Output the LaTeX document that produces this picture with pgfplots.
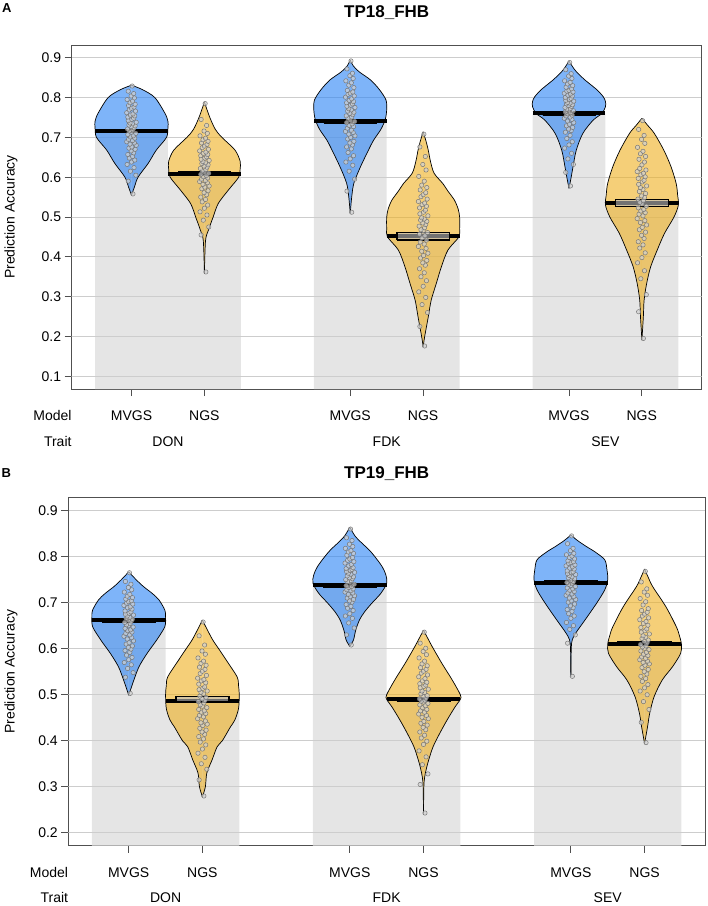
\documentclass[border=0pt]{standalone}
\usepackage{fontspec}
\setmainfont{Liberation Sans}
\usepackage{pgfplots}
\usepackage{pgfplotstable}
\pgfplotsset{compat=1.18}
\definecolor{barcol}{RGB}{229,229,229}
\definecolor{vblue}{RGB}{40,130,245}
\definecolor{vyel}{RGB}{238,175,30}
\definecolor{gridc}{RGB}{205,205,205}
\definecolor{axc}{RGB}{80,80,80}
\newcommand{\lab}{\fontsize{14}{16}\selectfont}

% violin half-width profiles (v = accuracy, w = half width in x units)
\pgfplotstableread{
v w
0.555 0
0.575 0.04
0.600 0.09
0.635 0.23
0.668 0.34
0.700 0.48
0.725 0.50
0.740 0.50
0.760 0.46
0.800 0.32
0.820 0.15
0.831 0
}\pAa
\pgfplotstableread{
v w
0.358 0
0.440 0.015
0.467 0.055
0.500 0.12
0.534 0.19
0.568 0.33
0.600 0.47
0.620 0.49
0.640 0.49
0.668 0.42
0.700 0.24
0.720 0.15
0.752 0.07
0.789 0
}\pAb
\pgfplotstableread{
v w
0.509 0
0.550 0.02
0.585 0.05
0.626 0.14
0.668 0.25
0.693 0.32
0.720 0.42
0.745 0.48
0.770 0.50
0.794 0.49
0.820 0.40
0.844 0.28
0.865 0.12
0.880 0.04
0.894 0
}\pAc
\pgfplotstableread{
v w
0.174 0
0.199 0.02
0.249 0.07
0.291 0.11
0.333 0.18
0.375 0.25
0.417 0.34
0.450 0.49
0.470 0.50
0.500 0.50
0.520 0.48
0.542 0.43
0.565 0.34
0.584 0.27
0.610 0.15
0.640 0.10
0.668 0.07
0.690 0.04
0.714 0
}\pAd
\pgfplotstableread{
v w
0.572 0
0.600 0.03
0.626 0.055
0.668 0.10
0.710 0.19
0.743 0.33
0.760 0.45
0.777 0.50
0.790 0.50
0.802 0.47
0.820 0.38
0.844 0.22
0.865 0.10
0.880 0.04
0.892 0
}\pAe
\pgfplotstableread{
v w
0.191 0
0.250 0.02
0.291 0.03
0.333 0.065
0.375 0.12
0.417 0.21
0.459 0.31
0.500 0.44
0.530 0.50
0.555 0.49
0.584 0.47
0.626 0.40
0.668 0.30
0.710 0.17
0.730 0.08
0.748 0
}\pAf
\pgfplotstableread{
v w
0.499 0
0.532 0.07
0.561 0.14
0.590 0.25
0.619 0.38
0.648 0.49
0.670 0.50
0.684 0.49
0.706 0.41
0.720 0.32
0.735 0.20
0.750 0.10
0.767 0
}\pBa
\pgfplotstableread{
v w
0.278 0
0.300 0.04
0.330 0.06
0.358 0.13
0.387 0.20
0.400 0.27
0.430 0.38
0.445 0.44
0.470 0.49
0.500 0.50
0.520 0.49
0.539 0.47
0.576 0.32
0.600 0.22
0.619 0.14
0.640 0.07
0.662 0
}\pBb
\pgfplotstableread{
v w
0.605 0
0.619 0.05
0.640 0.08
0.662 0.13
0.680 0.20
0.699 0.30
0.720 0.42
0.742 0.50
0.760 0.49
0.778 0.44
0.800 0.34
0.815 0.26
0.830 0.16
0.845 0.07
0.864 0
}\pBc
\pgfplotstableread{
v w
0.242 0
0.300 0.005
0.320 0.015
0.340 0.04
0.358 0.07
0.387 0.13
0.416 0.22
0.445 0.32
0.474 0.43
0.490 0.50
0.500 0.50
0.532 0.39
0.568 0.25
0.604 0.12
0.625 0.05
0.640 0
}\pBd
\pgfplotstableread{
v w
0.539 0
0.600 0.005
0.620 0.02
0.635 0.07
0.662 0.19
0.699 0.35
0.728 0.46
0.750 0.50
0.771 0.49
0.793 0.46
0.810 0.33
0.822 0.21
0.835 0.09
0.847 0
}\pBe
\pgfplotstableread{
v w
0.394 0
0.430 0.04
0.460 0.07
0.496 0.13
0.532 0.24
0.561 0.38
0.590 0.49
0.610 0.50
0.630 0.47
0.648 0.43
0.691 0.29
0.735 0.11
0.755 0.05
0.773 0
}\pBf

% individual points: dx = jitter, y1..y6 = values per model/trait
\pgfplotstableread{
dx y1 y2 y3 y4 y5 y6
0.02 0.558 0.362 0.512 0.176 0.578 0.195
-0.045 0.590 0.455 0.565 0.225 0.612 0.262
0.06 0.605 0.475 0.595 0.260 0.632 0.305
-0.015 0.615 0.492 0.615 0.280 0.646 0.345
0.035 0.624 0.505 0.630 0.298 0.660 0.365
-0.06 0.632 0.513 0.638 0.312 0.673 0.385
0.0 0.638 0.522 0.646 0.326 0.681 0.398
0.045 0.643 0.530 0.654 0.340 0.689 0.410
-0.03 0.648 0.538 0.662 0.350 0.697 0.422
0.015 0.652 0.544 0.671 0.360 0.705 0.430
-0.05 0.657 0.550 0.676 0.370 0.713 0.438
0.03 0.661 0.556 0.681 0.379 0.717 0.446
-0.005 0.666 0.561 0.686 0.385 0.721 0.454
0.05 0.670 0.566 0.690 0.391 0.725 0.462
-0.035 0.673 0.571 0.696 0.397 0.729 0.468
0.005 0.676 0.575 0.700 0.403 0.733 0.474
0.065 0.680 0.578 0.704 0.409 0.737 0.480
-0.02 0.683 0.582 0.708 0.414 0.741 0.486
0.04 0.686 0.586 0.712 0.421 0.745 0.491
-0.065 0.689 0.589 0.715 0.426 0.748 0.496
0.015 0.692 0.592 0.718 0.432 0.751 0.503
-0.04 0.695 0.595 0.723 0.437 0.754 0.507
0.045 0.698 0.598 0.727 0.442 0.756 0.511
-0.015 0.701 0.601 0.730 0.447 0.759 0.515
0.025 0.704 0.604 0.734 0.453 0.762 0.519
-0.05 0.707 0.607 0.737 0.457 0.764 0.523
0.06 0.710 0.610 0.740 0.461 0.767 0.527
0.0 0.713 0.613 0.743 0.465 0.769 0.533
-0.03 0.716 0.616 0.748 0.468 0.771 0.537
0.02 0.719 0.619 0.751 0.473 0.773 0.541
-0.055 0.721 0.622 0.754 0.477 0.775 0.545
0.035 0.724 0.625 0.757 0.481 0.778 0.549
-0.005 0.727 0.628 0.760 0.485 0.780 0.553
0.05 0.729 0.631 0.763 0.489 0.782 0.559
-0.035 0.731 0.634 0.766 0.492 0.784 0.564
0.015 0.734 0.636 0.769 0.495 0.786 0.569
-0.02 0.736 0.639 0.772 0.498 0.788 0.574
0.065 0.738 0.642 0.775 0.503 0.791 0.578
-0.045 0.742 0.645 0.778 0.508 0.793 0.582
0.005 0.745 0.648 0.781 0.512 0.795 0.588
0.03 0.748 0.651 0.784 0.517 0.798 0.592
-0.05 0.751 0.654 0.787 0.523 0.800 0.597
0.045 0.754 0.657 0.790 0.527 0.804 0.601
-0.015 0.756 0.660 0.793 0.531 0.806 0.606
0.02 0.759 0.663 0.797 0.535 0.809 0.610
-0.065 0.762 0.666 0.801 0.539 0.811 0.614
0.055 0.766 0.670 0.804 0.545 0.814 0.618
-0.03 0.769 0.674 0.808 0.551 0.816 0.622
0.0 0.773 0.678 0.811 0.556 0.818 0.631
0.035 0.776 0.682 0.814 0.561 0.822 0.638
-0.04 0.780 0.686 0.818 0.568 0.826 0.645
0.05 0.783 0.690 0.825 0.574 0.830 0.652
-0.02 0.787 0.694 0.831 0.580 0.834 0.659
0.015 0.791 0.698 0.837 0.590 0.838 0.665
-0.06 0.795 0.704 0.842 0.602 0.842 0.675
0.04 0.799 0.710 0.848 0.618 0.848 0.685
-0.005 0.804 0.716 0.855 0.632 0.854 0.695
0.03 0.810 0.730 0.861 0.652 0.860 0.705
-0.045 0.816 0.745 0.872 0.676 0.870 0.720
0.01 0.829 0.785 0.892 0.708 0.888 0.742
}\ptsA
\pgfplotstableread{
dx y1 y2 y3 y4 y5 y6
0.02 0.503 0.280 0.608 0.243 0.540 0.396
-0.045 0.538 0.315 0.630 0.305 0.612 0.440
0.06 0.548 0.338 0.645 0.328 0.630 0.468
-0.015 0.557 0.350 0.656 0.348 0.642 0.485
0.035 0.565 0.364 0.666 0.365 0.650 0.500
-0.06 0.570 0.373 0.671 0.378 0.657 0.508
0.0 0.576 0.382 0.676 0.392 0.666 0.515
0.045 0.581 0.391 0.683 0.399 0.671 0.522
-0.03 0.586 0.397 0.688 0.406 0.676 0.529
0.015 0.592 0.404 0.692 0.412 0.681 0.535
-0.05 0.596 0.409 0.696 0.419 0.685 0.540
0.03 0.599 0.414 0.701 0.424 0.689 0.545
-0.005 0.603 0.419 0.704 0.429 0.693 0.550
0.05 0.606 0.423 0.707 0.434 0.697 0.555
-0.035 0.610 0.427 0.710 0.438 0.701 0.559
0.005 0.613 0.433 0.713 0.442 0.704 0.564
0.065 0.617 0.436 0.715 0.448 0.707 0.567
-0.02 0.621 0.439 0.718 0.451 0.710 0.570
0.04 0.624 0.443 0.721 0.455 0.713 0.573
-0.065 0.627 0.448 0.723 0.458 0.716 0.576
0.015 0.630 0.452 0.726 0.462 0.719 0.579
-0.04 0.633 0.455 0.728 0.465 0.721 0.582
0.045 0.636 0.459 0.730 0.468 0.724 0.585
-0.015 0.639 0.462 0.733 0.472 0.727 0.588
0.025 0.641 0.465 0.735 0.476 0.730 0.592
-0.05 0.644 0.468 0.737 0.478 0.732 0.595
0.06 0.647 0.472 0.740 0.481 0.735 0.598
0.0 0.650 0.475 0.744 0.484 0.737 0.601
-0.03 0.652 0.478 0.746 0.486 0.740 0.604
0.02 0.655 0.482 0.748 0.488 0.742 0.606
-0.055 0.657 0.485 0.750 0.491 0.744 0.609
0.035 0.660 0.488 0.752 0.493 0.746 0.613
-0.005 0.662 0.491 0.754 0.496 0.748 0.616
0.05 0.664 0.494 0.756 0.498 0.752 0.619
-0.035 0.666 0.497 0.758 0.502 0.754 0.622
0.015 0.668 0.502 0.762 0.505 0.756 0.625
-0.02 0.671 0.505 0.764 0.508 0.759 0.628
0.065 0.673 0.508 0.766 0.512 0.761 0.632
-0.045 0.675 0.511 0.768 0.515 0.763 0.636
0.005 0.677 0.514 0.770 0.518 0.765 0.639
0.03 0.680 0.517 0.772 0.521 0.767 0.643
-0.05 0.682 0.523 0.774 0.524 0.769 0.646
0.045 0.686 0.526 0.776 0.527 0.773 0.651
-0.015 0.689 0.530 0.780 0.530 0.775 0.655
0.02 0.691 0.533 0.783 0.535 0.778 0.659
-0.065 0.694 0.536 0.786 0.539 0.780 0.663
0.055 0.697 0.542 0.789 0.543 0.782 0.667
-0.03 0.699 0.546 0.792 0.547 0.785 0.671
0.0 0.702 0.551 0.795 0.551 0.787 0.675
0.035 0.704 0.555 0.798 0.555 0.789 0.679
-0.04 0.708 0.560 0.803 0.559 0.791 0.683
0.05 0.711 0.564 0.807 0.563 0.795 0.687
-0.02 0.714 0.568 0.810 0.567 0.798 0.695
0.015 0.718 0.573 0.813 0.573 0.801 0.702
-0.06 0.723 0.580 0.818 0.580 0.804 0.709
0.04 0.728 0.588 0.822 0.587 0.807 0.716
-0.005 0.733 0.595 0.827 0.594 0.813 0.723
0.03 0.740 0.608 0.835 0.601 0.818 0.730
-0.045 0.746 0.628 0.841 0.612 0.828 0.745
0.01 0.765 0.658 0.860 0.636 0.845 0.768
}\ptsB

\pgfplotsset{
  pirate/.style={
    scale only axis, clip=true, axis on top=false,
    xmin=0.18, xmax=8.82,
    xtick={1,2,4,5,7,8}, xticklabels={},
    tick align=outside, tick pos=left, major tick length=7pt,
    tick style={axc, line width=0.9pt},
    axis line style={axc, line width=1pt},
    ymajorgrids, grid style={gridc, line width=0.9pt},
    yticklabel style={font=\lab, /pgf/number format/fixed, /pgf/number format/fixed zerofill, /pgf/number format/precision=1, /pgf/number format/assume math mode=true},
  },
  violin/.style={smooth, tension=0.5, draw=black, line width=0.7pt, fill opacity=0.6, mark=none},
  pts/.style={only marks, mark=*, mark size=2.2pt, mark options={draw=black!55, fill=black!18, fill opacity=0.7, line width=0.45pt}},
  avg/.style={black, line width=4pt, mark=none},
  inf/.style={draw=black, line width=1.3pt, fill=black!25, fill opacity=0.6, mark=none},
  infn/.style={draw=black, line width=1.2pt, fill=black, mark=none},
  gridl/.style={gridc, line width=0.9pt, mark=none},
}
\newcommand{\violin}[3]{%
  \addplot[violin, fill=#3] table[x expr=#1+\thisrow{w}, y=v]{#2};
  \addplot[violin, fill=#3] table[x expr=#1-\thisrow{w}, y=v]{#2};}

\begin{document}
\begin{tikzpicture}
\path[use as bounding box] (0pt,0pt) rectangle (708pt,-906pt);

% ---------------- Panel A ----------------
\begin{axis}[pirate, at={(71.7pt,-389pt)}, anchor=south west, width=630pt, height=344pt,
  ymin=0.068, ymax=0.932, ytick={0.1,0.2,0.3,0.4,0.5,0.6,0.7,0.8,0.9}]
\addplot[ybar, bar width=1, bar shift=0pt, fill=barcol, draw=none]
  coordinates {(1,0.716) (2,0.609) (4,0.740) (5,0.452) (7,0.760) (8,0.536)};
\addplot[gridl] coordinates {(0,0.1) (9,0.1)};
\addplot[gridl] coordinates {(0,0.2) (9,0.2)};
\addplot[gridl] coordinates {(0,0.3) (9,0.3)};
\addplot[gridl] coordinates {(0,0.4) (9,0.4)};
\addplot[gridl] coordinates {(0,0.5) (9,0.5)};
\addplot[gridl] coordinates {(0,0.6) (9,0.6)};
\addplot[gridl] coordinates {(0,0.7) (9,0.7)};
\violin{1}{\pAa}{vblue}
\violin{2}{\pAb}{vyel}
\violin{4}{\pAc}{vblue}
\violin{5}{\pAd}{vyel}
\violin{7}{\pAe}{vblue}
\violin{8}{\pAf}{vyel}
\addplot[pts] table[x expr=1+\thisrow{dx}, y=y1]{\ptsA};
\addplot[pts] table[x expr=2+\thisrow{dx}, y=y2]{\ptsA};
\addplot[pts] table[x expr=4+\thisrow{dx}, y=y3]{\ptsA};
\addplot[pts] table[x expr=5+\thisrow{dx}, y=y4]{\ptsA};
\addplot[pts] table[x expr=7+\thisrow{dx}, y=y5]{\ptsA};
\addplot[pts] table[x expr=8+\thisrow{dx}, y=y6]{\ptsA};
\addplot[avg] coordinates {(0.5,0.716) (1.5,0.716)};
\addplot[avg] coordinates {(1.5,0.609) (2.5,0.609)};
\addplot[avg] coordinates {(3.5,0.740) (4.5,0.740)};
\addplot[avg] coordinates {(4.5,0.452) (5.5,0.452)};
\addplot[avg] coordinates {(6.5,0.760) (7.5,0.760)};
\addplot[avg] coordinates {(7.5,0.536) (8.5,0.536)};
\addplot[infn] coordinates {(0.64,0.7115) (1.36,0.7115) (1.36,0.7205) (0.64,0.7205) (0.64,0.7115)};
\addplot[infn] coordinates {(1.64,0.6045) (2.36,0.6045) (2.36,0.6135) (1.64,0.6135) (1.64,0.6045)};
\addplot[infn] coordinates {(3.64,0.7355) (4.36,0.7355) (4.36,0.7445) (3.64,0.7445) (3.64,0.7355)};
\addplot[inf] coordinates {(4.64,0.442) (5.36,0.442) (5.36,0.461) (4.64,0.461) (4.64,0.442)};
\addplot[infn] coordinates {(6.64,0.7555) (7.36,0.7555) (7.36,0.7645) (6.64,0.7645) (6.64,0.7555)};
\addplot[inf] coordinates {(7.64,0.526) (8.36,0.526) (8.36,0.544) (7.64,0.544) (7.64,0.526)};
\end{axis}

% ---------------- Panel B ----------------
\begin{axis}[pirate, at={(68.3pt,-845.7pt)}, anchor=south west, width=636.7pt, height=348pt,
  ymin=0.172, ymax=0.928, ytick={0.2,0.3,0.4,0.5,0.6,0.7,0.8,0.9}]
\addplot[ybar, bar width=1, bar shift=0pt, fill=barcol, draw=none]
  coordinates {(1,0.662) (2,0.486) (4,0.738) (5,0.490) (7,0.743) (8,0.611)};
\addplot[gridl] coordinates {(0,0.2) (9,0.2)};
\addplot[gridl] coordinates {(0,0.3) (9,0.3)};
\addplot[gridl] coordinates {(0,0.4) (9,0.4)};
\addplot[gridl] coordinates {(0,0.5) (9,0.5)};
\addplot[gridl] coordinates {(0,0.6) (9,0.6)};
\addplot[gridl] coordinates {(0,0.7) (9,0.7)};
\violin{1}{\pBa}{vblue}
\violin{2}{\pBb}{vyel}
\violin{4}{\pBc}{vblue}
\violin{5}{\pBd}{vyel}
\violin{7}{\pBe}{vblue}
\violin{8}{\pBf}{vyel}
\addplot[pts] table[x expr=1+\thisrow{dx}, y=y1]{\ptsB};
\addplot[pts] table[x expr=2+\thisrow{dx}, y=y2]{\ptsB};
\addplot[pts] table[x expr=4+\thisrow{dx}, y=y3]{\ptsB};
\addplot[pts] table[x expr=5+\thisrow{dx}, y=y4]{\ptsB};
\addplot[pts] table[x expr=7+\thisrow{dx}, y=y5]{\ptsB};
\addplot[pts] table[x expr=8+\thisrow{dx}, y=y6]{\ptsB};
\addplot[avg] coordinates {(0.5,0.662) (1.5,0.662)};
\addplot[avg] coordinates {(1.5,0.486) (2.5,0.486)};
\addplot[avg] coordinates {(3.5,0.738) (4.5,0.738)};
\addplot[avg] coordinates {(4.5,0.490) (5.5,0.490)};
\addplot[avg] coordinates {(6.5,0.743) (7.5,0.743)};
\addplot[avg] coordinates {(7.5,0.611) (8.5,0.611)};
\addplot[infn] coordinates {(0.64,0.658) (1.36,0.658) (1.36,0.666) (0.64,0.666) (0.64,0.658)};
\addplot[inf] coordinates {(1.64,0.484) (2.36,0.484) (2.36,0.496) (1.64,0.496) (1.64,0.484)};
\addplot[infn] coordinates {(3.64,0.734) (4.36,0.734) (4.36,0.742) (3.64,0.742) (3.64,0.734)};
\addplot[infn] coordinates {(4.64,0.486) (5.36,0.486) (5.36,0.494) (4.64,0.494) (4.64,0.486)};
\addplot[infn] coordinates {(6.64,0.739) (7.36,0.739) (7.36,0.747) (6.64,0.747) (6.64,0.739)};
\addplot[infn] coordinates {(7.64,0.607) (8.36,0.607) (8.36,0.615) (7.64,0.615) (7.64,0.607)};
\end{axis}

% ---------------- Texts ----------------
\node[anchor=base, font=\bfseries\fontsize{13}{15}\selectfont, inner sep=0pt] at (6.7pt,-12.7pt) {A};
\node[anchor=base, font=\bfseries\fontsize{17}{20}\selectfont, inner sep=0pt] at (386.7pt,-17.2pt) {TP18\_FHB};
\node[anchor=base, rotate=90, font=\lab, inner sep=0pt] at (14.5pt,-217pt) {Prediction Accuracy};
\node[anchor=base east, font=\lab, inner sep=0pt] at (71.7pt,-420pt) {Model};
\node[anchor=base east, font=\lab, inner sep=0pt] at (71.7pt,-446.7pt) {Trait};
\node[anchor=base, font=\lab, inner sep=0pt] at (131.5pt,-420pt) {MVGS};
\node[anchor=base, font=\lab, inner sep=0pt] at (204.4pt,-420pt) {NGS};
\node[anchor=base, font=\lab, inner sep=0pt] at (350.2pt,-420pt) {MVGS};
\node[anchor=base, font=\lab, inner sep=0pt] at (423.1pt,-420pt) {NGS};
\node[anchor=base, font=\lab, inner sep=0pt] at (568.9pt,-420pt) {MVGS};
\node[anchor=base, font=\lab, inner sep=0pt] at (641.8pt,-420pt) {NGS};
\node[anchor=base, font=\lab, inner sep=0pt] at (168.0pt,-446.7pt) {DON};
\node[anchor=base, font=\lab, inner sep=0pt] at (386.7pt,-446.7pt) {FDK};
\node[anchor=base, font=\lab, inner sep=0pt] at (605.4pt,-446.7pt) {SEV};

\node[anchor=base, font=\bfseries\fontsize{13}{15}\selectfont, inner sep=0pt] at (6.2pt,-477.7pt) {B};
\node[anchor=base, font=\bfseries\fontsize{17}{20}\selectfont, inner sep=0pt] at (386.7pt,-478pt) {TP19\_FHB};
\node[anchor=base, rotate=90, font=\lab, inner sep=0pt] at (14.5pt,-671.7pt) {Prediction Accuracy};
\node[anchor=base east, font=\lab, inner sep=0pt] at (68.3pt,-877.7pt) {Model};
\node[anchor=base east, font=\lab, inner sep=0pt] at (68.3pt,-902.3pt) {Trait};
\node[anchor=base, font=\lab, inner sep=0pt] at (128.7pt,-877.7pt) {MVGS};
\node[anchor=base, font=\lab, inner sep=0pt] at (202.4pt,-877.7pt) {NGS};
\node[anchor=base, font=\lab, inner sep=0pt] at (349.8pt,-877.7pt) {MVGS};
\node[anchor=base, font=\lab, inner sep=0pt] at (423.5pt,-877.7pt) {NGS};
\node[anchor=base, font=\lab, inner sep=0pt] at (570.9pt,-877.7pt) {MVGS};
\node[anchor=base, font=\lab, inner sep=0pt] at (644.6pt,-877.7pt) {NGS};
\node[anchor=base, font=\lab, inner sep=0pt] at (165.6pt,-902.3pt) {DON};
\node[anchor=base, font=\lab, inner sep=0pt] at (386.6pt,-902.3pt) {FDK};
\node[anchor=base, font=\lab, inner sep=0pt] at (607.7pt,-902.3pt) {SEV};
\end{tikzpicture}
\end{document}
